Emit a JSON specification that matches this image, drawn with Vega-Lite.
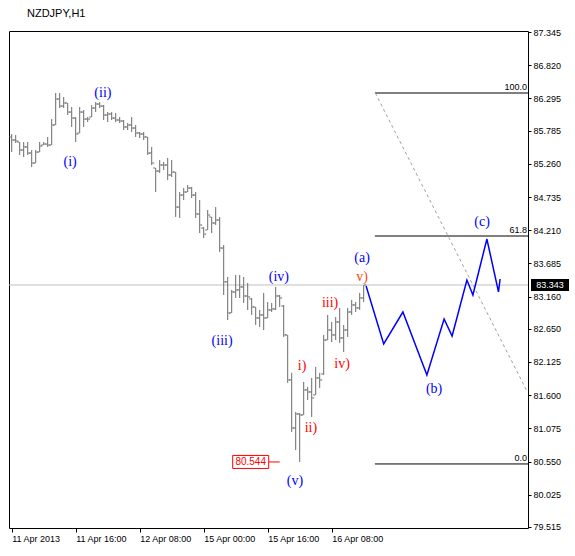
{
  "$schema": "https://vega.github.io/schema/vega-lite/v6.json",
  "width": 519,
  "height": 497,
  "autosize": {"type": "none"},
  "padding": {"left": 9, "top": 31, "right": 47, "bottom": 28},
  "background": "#ffffff",
  "title": {"text": "NZDJPY,H1", "anchor": "start", "frame": "group", "offset": 9, "dx": 18, "font": "Liberation Sans", "fontSize": 11, "fontWeight": "normal", "color": "#000000"},
  "config": {
    "view": {"stroke": "#000000", "strokeWidth": 1},
    "axis": {"labelFont": "Liberation Sans", "labelFontSize": 9, "labelColor": "#000000", "tickColor": "#000000", "grid": false, "domain": false, "labelOverlap": false}
  },
  "datasets": {
    "bars": [
      {"i":0,"o":85.684,"h":85.731,"l":85.446,"c":85.636},
      {"i":1,"o":85.636,"h":85.715,"l":85.589,"c":85.620},
      {"i":2,"o":85.605,"h":85.605,"l":85.399,"c":85.478},
      {"i":3,"o":85.478,"h":85.605,"l":85.367,"c":85.526},
      {"i":4,"o":85.526,"h":85.605,"l":85.399,"c":85.431},
      {"i":5,"o":85.431,"h":85.478,"l":85.209,"c":85.272},
      {"i":6,"o":85.272,"h":85.478,"l":85.272,"c":85.446},
      {"i":7,"o":85.446,"h":85.605,"l":85.446,"c":85.541},
      {"i":8,"o":85.557,"h":85.605,"l":85.557,"c":85.573},
      {"i":9,"o":85.573,"h":85.684,"l":85.526,"c":85.557},
      {"i":10,"o":85.557,"h":85.968,"l":85.557,"c":85.874},
      {"i":11,"o":85.874,"h":86.380,"l":85.874,"c":86.285},
      {"i":12,"o":86.285,"h":86.380,"l":86.142,"c":86.174},
      {"i":13,"o":86.174,"h":86.317,"l":86.142,"c":86.222},
      {"i":14,"o":86.222,"h":86.222,"l":86.032,"c":86.079},
      {"i":15,"o":86.079,"h":86.158,"l":85.843,"c":85.984},
      {"i":16,"o":85.984,"h":86.000,"l":85.605,"c":85.731},
      {"i":17,"o":85.747,"h":86.158,"l":85.747,"c":86.079},
      {"i":18,"o":86.079,"h":86.111,"l":85.843,"c":85.968},
      {"i":19,"o":85.968,"h":86.000,"l":85.921,"c":85.968},
      {"i":20,"o":86.000,"h":86.190,"l":86.000,"c":86.142},
      {"i":21,"o":86.142,"h":86.237,"l":86.079,"c":86.206},
      {"i":22,"o":86.206,"h":86.237,"l":86.142,"c":86.174},
      {"i":23,"o":86.174,"h":86.190,"l":85.953,"c":86.032},
      {"i":24,"o":86.032,"h":86.079,"l":85.921,"c":86.048},
      {"i":25,"o":86.048,"h":86.079,"l":85.953,"c":85.984},
      {"i":26,"o":85.984,"h":86.063,"l":85.921,"c":85.953},
      {"i":27,"o":85.953,"h":86.000,"l":85.905,"c":85.937},
      {"i":28,"o":85.937,"h":85.953,"l":85.794,"c":85.843},
      {"i":29,"o":85.843,"h":85.905,"l":85.794,"c":85.874},
      {"i":30,"o":85.874,"h":86.000,"l":85.763,"c":85.826},
      {"i":31,"o":85.826,"h":85.874,"l":85.684,"c":85.747},
      {"i":32,"o":85.747,"h":85.763,"l":85.668,"c":85.731},
      {"i":33,"o":85.731,"h":85.763,"l":85.636,"c":85.684},
      {"i":34,"o":85.684,"h":85.684,"l":85.399,"c":85.431},
      {"i":35,"o":85.431,"h":85.526,"l":85.241,"c":85.272},
      {"i":36,"o":85.194,"h":85.194,"l":84.814,"c":85.146},
      {"i":37,"o":85.146,"h":85.320,"l":85.115,"c":85.241},
      {"i":38,"o":85.241,"h":85.288,"l":85.162,"c":85.241},
      {"i":39,"o":85.241,"h":85.352,"l":85.004,"c":85.083},
      {"i":40,"o":85.083,"h":85.320,"l":85.051,"c":85.130},
      {"i":41,"o":85.130,"h":85.130,"l":84.419,"c":84.576},
      {"i":42,"o":84.576,"h":84.814,"l":84.403,"c":84.766},
      {"i":43,"o":84.766,"h":84.877,"l":84.687,"c":84.814},
      {"i":44,"o":84.814,"h":84.925,"l":84.814,"c":84.877},
      {"i":45,"o":84.877,"h":84.893,"l":84.719,"c":84.766},
      {"i":46,"o":84.766,"h":84.814,"l":84.403,"c":84.466},
      {"i":47,"o":84.466,"h":84.687,"l":84.165,"c":84.292},
      {"i":48,"o":84.244,"h":84.260,"l":84.086,"c":84.149},
      {"i":49,"o":84.213,"h":84.529,"l":84.213,"c":84.450},
      {"i":50,"o":84.419,"h":84.419,"l":84.165,"c":84.324},
      {"i":51,"o":84.324,"h":84.576,"l":84.292,"c":84.371},
      {"i":52,"o":84.371,"h":84.419,"l":83.865,"c":83.928},
      {"i":53,"o":83.928,"h":83.975,"l":83.185,"c":83.392},
      {"i":54,"o":83.392,"h":83.470,"l":82.789,"c":82.900},
      {"i":55,"o":82.900,"h":83.264,"l":82.900,"c":83.233},
      {"i":56,"o":83.233,"h":83.502,"l":83.138,"c":83.264},
      {"i":57,"o":83.264,"h":83.502,"l":83.138,"c":83.312},
      {"i":58,"o":83.312,"h":83.470,"l":83.058,"c":83.169},
      {"i":59,"o":83.169,"h":83.376,"l":82.948,"c":83.154},
      {"i":60,"o":83.122,"h":83.138,"l":82.869,"c":82.995},
      {"i":61,"o":82.995,"h":82.995,"l":82.711,"c":82.822},
      {"i":62,"o":82.822,"h":82.948,"l":82.679,"c":82.869},
      {"i":63,"o":82.869,"h":83.217,"l":82.631,"c":82.822},
      {"i":64,"o":82.822,"h":83.074,"l":82.822,"c":82.948},
      {"i":65,"o":82.948,"h":83.058,"l":82.916,"c":82.964},
      {"i":66,"o":82.964,"h":83.312,"l":82.948,"c":83.169},
      {"i":67,"o":83.169,"h":83.185,"l":82.995,"c":83.138},
      {"i":68,"o":83.011,"h":83.027,"l":82.521,"c":82.553},
      {"i":69,"o":82.553,"h":82.553,"l":81.794,"c":81.841},
      {"i":70,"o":81.841,"h":81.953,"l":81.018,"c":81.081},
      {"i":71,"o":81.081,"h":81.334,"l":80.733,"c":81.302},
      {"i":72,"o":81.302,"h":81.318,"l":80.544,"c":81.287},
      {"i":73,"o":81.287,"h":81.810,"l":81.287,"c":81.683},
      {"i":74,"o":81.683,"h":81.731,"l":81.524,"c":81.651},
      {"i":75,"o":81.651,"h":81.873,"l":81.255,"c":81.556},
      {"i":76,"o":81.604,"h":82.047,"l":81.604,"c":81.873},
      {"i":77,"o":81.873,"h":81.953,"l":81.715,"c":81.841},
      {"i":78,"o":81.937,"h":82.553,"l":81.921,"c":82.473},
      {"i":79,"o":82.473,"h":82.869,"l":82.473,"c":82.631},
      {"i":80,"o":82.631,"h":82.758,"l":82.441,"c":82.553},
      {"i":81,"o":82.553,"h":82.837,"l":82.473,"c":82.758},
      {"i":82,"o":82.758,"h":82.980,"l":82.426,"c":82.505},
      {"i":83,"o":82.505,"h":82.711,"l":82.284,"c":82.631},
      {"i":84,"o":82.631,"h":82.980,"l":82.521,"c":82.916},
      {"i":85,"o":82.916,"h":83.106,"l":82.869,"c":83.027},
      {"i":86,"o":83.027,"h":83.074,"l":82.916,"c":82.980},
      {"i":87,"o":82.980,"h":83.217,"l":82.948,"c":83.138},
      {"i":88,"o":83.138,"h":83.343,"l":83.074,"c":83.343}
    ],
    "last": [{"p": 83.343, "label": "83.343"}],
    "lowmark": [{"i": 67, "p": 80.544, "label": "80.544"}],
    "fibs": [
      {"i": 90.8, "i2": 129.075, "p": 86.380, "label": "100.0"},
      {"i": 90.8, "i2": 129.075, "p": 84.118, "label": "61.8"},
      {"i": 90.8, "i2": 129.075, "p": 80.512, "label": "0.0"}
    ],
    "trend": [
      {"i": 90.9, "p": 86.380},
      {"i": 128.8, "p": 81.666}
    ],
    "path": [
      {"n": 0, "i": 88.6, "p": 83.327},
      {"n": 1, "i": 93.0, "p": 82.410},
      {"n": 2, "i": 97.8, "p": 82.916},
      {"n": 3, "i": 103.8, "p": 81.920},
      {"n": 4, "i": 108.1, "p": 82.805},
      {"n": 5, "i": 110.1, "p": 82.537},
      {"n": 6, "i": 113.8, "p": 83.421},
      {"n": 7, "i": 115.3, "p": 83.185},
      {"n": 8, "i": 118.8, "p": 84.070},
      {"n": 9, "i": 121.7, "p": 83.233},
      {"n": 10, "i": 122.1, "p": 83.438}
    ],
    "waves": [
      {"i": 14.6, "p": 85.288, "label": "(i)", "grp": "major"},
      {"i": 22.8, "p": 86.380, "label": "(ii)", "grp": "major"},
      {"i": 52.6, "p": 82.457, "label": "(iii)", "grp": "major"},
      {"i": 66.8, "p": 83.469, "label": "(iv)", "grp": "major"},
      {"i": 70.8, "p": 80.243, "label": "(v)", "grp": "major"},
      {"i": 72.6, "p": 82.062, "label": "i)", "grp": "minor"},
      {"i": 74.8, "p": 81.081, "label": "ii)", "grp": "minor"},
      {"i": 79.6, "p": 83.059, "label": "iii)", "grp": "minor"},
      {"i": 82.6, "p": 82.094, "label": "iv)", "grp": "minor"},
      {"i": 87.6, "p": 83.469, "label": "v)", "grp": "minor5"},
      {"i": 87.6, "p": 83.769, "label": "(a)", "grp": "major"},
      {"i": 105.6, "p": 81.698, "label": "(b)", "grp": "major"},
      {"i": 117.6, "p": 84.339, "label": "(c)", "grp": "major"}
    ]
  },
  "layer": [
    {
      "data": {"name": "last"},
      "mark": {"type": "rule", "color": "#c0c0c0", "strokeWidth": 1},
      "encoding": {
        "y": {"field": "p", "type": "quantitative"}
      }
    },
    {
      "data": {"name": "bars"},
      "mark": {"type": "rule", "color": "#6a6a6a", "strokeWidth": 1},
      "encoding": {
        "x": {
          "field": "i",
          "type": "quantitative",
          "scale": {"domain": [-0.675, 129.075], "nice": false, "zero": false},
          "axis": {
            "values": [0, 16, 32, 48, 64, 80],
            "tickCount": 20,
            "labelExpr": "['11 Apr 2013','11 Apr 16:00','12 Apr 08:00','15 Apr 00:00','15 Apr 16:00','16 Apr 08:00'][round(datum.value/16)]",
            "labelAlign": "left",
            "labelFlush": false,
            "labelOverlap": false,
            "labelPadding": 2,
            "tickSize": 4,
            "title": null
          }
        },
        "y": {
          "field": "h",
          "type": "quantitative",
          "scale": {"domain": [79.499, 87.361], "nice": false, "zero": false},
          "axis": {
            "orient": "right",
            "values": [87.345, 86.82, 86.295, 85.785, 85.26, 84.735, 84.21, 83.685, 83.16, 82.65, 82.125, 81.6, 81.075, 80.55, 80.025, 79.515],
            "tickCount": 20,
            "format": ".3f",
            "labelOverlap": false,
            "labelBound": false,
            "labelFlush": false,
            "tickSize": 3,
            "labelPadding": 2,
            "title": null
          }
        },
        "y2": {"field": "l"}
      }
    },
    {
      "data": {"name": "fibs"},
      "mark": {"type": "rule", "color": "#000000", "strokeWidth": 1},
      "encoding": {
        "x": {"field": "i", "type": "quantitative"},
        "x2": {"field": "i2"},
        "y": {"field": "p", "type": "quantitative"}
      }
    },
    {
      "data": {"name": "fibs"},
      "mark": {"type": "text", "align": "right", "baseline": "bottom", "dx": -1, "dy": -1, "font": "Liberation Sans", "fontSize": 9, "color": "#000000"},
      "encoding": {
        "x": {"field": "i2", "type": "quantitative"},
        "y": {"field": "p", "type": "quantitative"},
        "text": {"field": "label"}
      }
    },
    {
      "data": {"name": "trend"},
      "mark": {"type": "line", "color": "#a0a0a0", "strokeWidth": 1, "strokeDash": [3, 3]},
      "encoding": {
        "x": {"field": "i", "type": "quantitative"},
        "y": {"field": "p", "type": "quantitative"}
      }
    },
    {
      "data": {"name": "bars"},
      "mark": {"type": "tick", "orient": "horizontal", "size": 2, "thickness": 1, "xOffset": -1.5, "color": "#6a6a6a", "opacity": 1},
      "encoding": {
        "x": {"field": "i", "type": "quantitative"},
        "y": {"field": "o", "type": "quantitative"}
      }
    },
    {
      "data": {"name": "bars"},
      "mark": {"type": "tick", "orient": "horizontal", "size": 2, "thickness": 1, "xOffset": 1.5, "color": "#6a6a6a", "opacity": 1},
      "encoding": {
        "x": {"field": "i", "type": "quantitative"},
        "y": {"field": "c", "type": "quantitative"}
      }
    },
    {
      "data": {"name": "path"},
      "mark": {"type": "line", "color": "#0000ff", "strokeWidth": 1.5},
      "encoding": {
        "x": {"field": "i", "type": "quantitative"},
        "y": {"field": "p", "type": "quantitative"},
        "order": {"field": "n", "type": "quantitative"}
      }
    },
    {
      "data": {"name": "waves"},
      "mark": {"type": "text", "align": "center", "baseline": "middle", "font": "Liberation Serif", "fontSize": 14},
      "encoding": {
        "x": {"field": "i", "type": "quantitative"},
        "y": {"field": "p", "type": "quantitative"},
        "text": {"field": "label"},
        "color": {
          "field": "grp",
          "type": "nominal",
          "scale": {"domain": ["major", "minor", "minor5"], "range": ["#0000ff", "#ff0000", "#ff4a10"]},
          "legend": null
        }
      }
    },
    {
      "data": {"name": "lowmark"},
      "mark": {"type": "point", "shape": "M-4.7,-0.65 H-1.1 V0.65 H-4.7 Z M-1.1,0 H0", "size": 400, "fill": "#ffffff", "stroke": "#ff0000", "strokeWidth": 1, "opacity": 1, "fillOpacity": 1},
      "encoding": {
        "x": {"field": "i", "type": "quantitative"},
        "y": {"field": "p", "type": "quantitative"}
      }
    },
    {
      "data": {"name": "lowmark"},
      "mark": {"type": "text", "align": "center", "baseline": "middle", "dx": -29, "font": "Liberation Sans", "fontSize": 10, "color": "#ff0000"},
      "encoding": {
        "x": {"field": "i", "type": "quantitative"},
        "y": {"field": "p", "type": "quantitative"},
        "text": {"field": "label"}
      }
    },
    {
      "data": {"name": "last"},
      "mark": {"type": "point", "shape": "M0.3,-0.6 H4.1 V0.6 H0.3 Z", "size": 400, "filled": true, "color": "#000000", "strokeWidth": 0, "opacity": 1},
      "encoding": {
        "x": {"datum": 129.075, "type": "quantitative"},
        "y": {"field": "p", "type": "quantitative"}
      }
    },
    {
      "data": {"name": "last"},
      "mark": {"type": "text", "align": "center", "baseline": "middle", "dx": 22, "font": "Liberation Sans", "fontSize": 9, "color": "#ffffff"},
      "encoding": {
        "x": {"datum": 129.075, "type": "quantitative"},
        "y": {"field": "p", "type": "quantitative"},
        "text": {"field": "label"}
      }
    }
  ]
}
